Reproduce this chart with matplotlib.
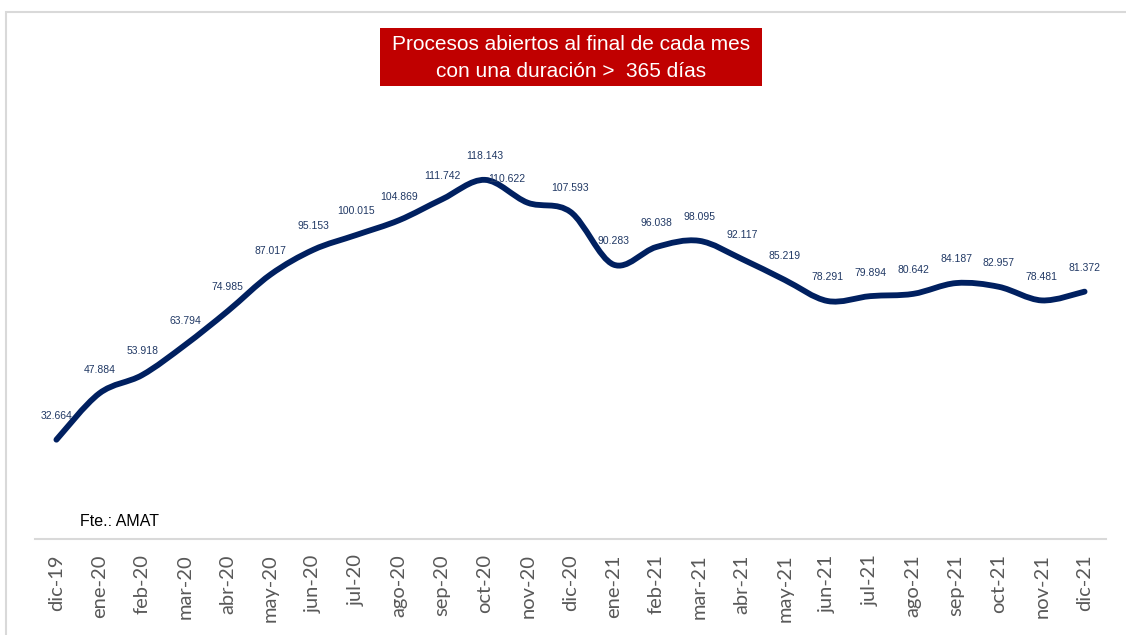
import numpy as np
import matplotlib
matplotlib.use("Agg")
import matplotlib.pyplot as plt
from matplotlib.path import Path
from matplotlib.patches import PathPatch, Rectangle

meses = ["dic-19", "ene-20", "feb-20", "mar-20", "abr-20", "may-20", "jun-20",
         "jul-20", "ago-20", "sep-20", "oct-20", "nov-20", "dic-20", "ene-21",
         "feb-21", "mar-21", "abr-21", "may-21", "jun-21", "jul-21", "ago-21",
         "sep-21", "oct-21", "nov-21", "dic-21"]
procesos = [32664, 47884, 53918, 63794, 74985, 87017, 95153, 100015, 104869,
            111742, 118143, 110622, 107593, 90283, 96038, 98095, 92117, 85219,
            78291, 79894, 80642, 84187, 82957, 78481, 81372]

W, H = 1126, 635
fig = plt.figure(figsize=(W / 100, H / 100), dpi=100)
ax = fig.add_axes([35 / W, 1 - 539 / H, (1106 - 35) / W, (539 - 52.6) / H])

x = np.arange(len(procesos))
y = np.array(procesos, dtype=float)

# linea suavizada tipo Excel (Catmull-Rom -> Bezier)
verts = [(x[0], y[0])]
codes = [Path.MOVETO]
n = len(x)
for i in range(n - 1):
    p0 = np.array([x[max(i - 1, 0)], y[max(i - 1, 0)]])
    p1 = np.array([x[i], y[i]])
    p2 = np.array([x[i + 1], y[i + 1]])
    p3 = np.array([x[min(i + 2, n - 1)], y[min(i + 2, n - 1)]])
    c1 = p1 + (p2 - p0) / 6
    c2 = p2 - (p3 - p1) / 6
    verts += [tuple(c1), tuple(c2), tuple(p2)]
    codes += [Path.CURVE4] * 3
patch = PathPatch(Path(verts, codes), facecolor="none", edgecolor="#002060",
                  lw=4.2, capstyle="round", joinstyle="round")
ax.add_patch(patch)

for i, v in enumerate(procesos):
    dx = -15 if meses[i] == "nov-20" else 0
    txt = f"{v:,}".replace(",", ".")
    ax.annotate(txt, (i, v), xytext=(dx, 17), textcoords="offset points",
                ha="center", va="center", fontsize=7.5, color="#203864",
                family="Liberation Sans")

ax.set_xlim(-0.5, len(procesos) - 0.5)
ax.set_ylim(0, 160000)
ax.set_yticks([])
ax.set_xticks(x)
ax.set_xticklabels(meses, rotation=90, fontsize=14.5, color="#595959",
                   family="Lato")
ax.tick_params(axis="x", length=0, pad=11)
for s in ["top", "right", "left"]:
    ax.spines[s].set_visible(False)
ax.spines["bottom"].set_color("#D9D9D9")
ax.spines["bottom"].set_linewidth(1.5)

ax.text(80 / W, 1 - 522 / H, "Fte.: AMAT", transform=fig.transFigure,
        fontsize=11.5, family="Liberation Sans", va="center", ha="left")

# caja del titulo
fig.patches.append(Rectangle((380 / W, 1 - 86 / H), (762 - 380) / W, 58 / H,
                             transform=fig.transFigure, facecolor="#C00000",
                             edgecolor="none", zorder=0))
fig.text(571 / W, 1 - 58 / H,
         "Procesos abiertos al final de cada mes\ncon una duración >  365 días",
         ha="center", va="center", color="white", fontsize=15,
         family="Liberation Sans", linespacing=1.5)

# borde del grafico
fig.patches.append(Rectangle((5.5 / W, -0.1), 1.2, 1 - 12.5 / H + 0.1,
                             transform=fig.transFigure, facecolor="none",
                             edgecolor="#D9D9D9", lw=1.5))

fig.savefig("out.png", dpi=100)
